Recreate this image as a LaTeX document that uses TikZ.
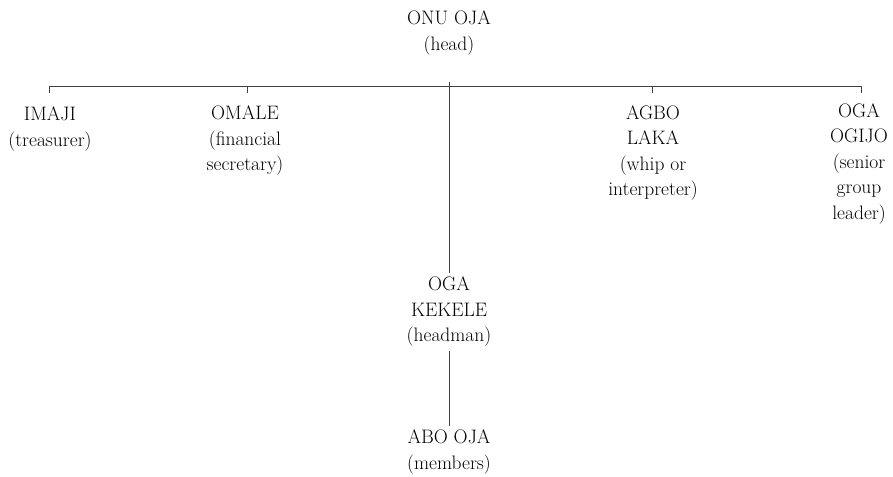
\documentclass[tikz,border=0pt]{standalone}
\begin{document}
\begin{tikzpicture}[x=1pt,y=-1pt,
    lbl/.style={align=center,inner sep=4pt,font=\fontsize{19.5}{25.5}\selectfont},
    link/.style={draw=black!75,line width=0.6pt}]
    \useasboundingbox (0,0) rectangle (893,476);

    \node[lbl] (onu) at (449,33) {ONU OJA\\(head)};
    \node[lbl] (imaji) at (50,129) {IMAJI\\(treasurer)};
    \node[lbl] (omale) at (245,141) {OMALE\\(financial\\secretary)};
    \node[lbl] (agbo) at (653,153) {AGBO\\LAKA\\(whip or\\interpreter)};
    \node[lbl] (ogijo) at (859,164) {OGA\\OGIJO\\(senior\\group\\leader)};
    \node[lbl] (kekele) at (449,312) {OGA\\KEKELE\\(headman)};
    \node[lbl] (abo) at (449,452) {ABO OJA\\(members)};

    \coordinate (stem) at (449,82);
    \coordinate (barL) at (49,86);
    \coordinate (barR) at (861,86);
    \coordinate (omaleT) at (247,86);
    \coordinate (agboT) at (652,86);

    \draw[link] (barL) -- (barR);
    \draw[link] (barL) -- ++(0,7) (omaleT) -- ++(0,7) (agboT) -- ++(0,7) (barR) -- ++(0,7);
    \draw[link] (stem) -- (kekele);
    \draw[link] (kekele) -- (abo);
\end{tikzpicture}
\end{document}
